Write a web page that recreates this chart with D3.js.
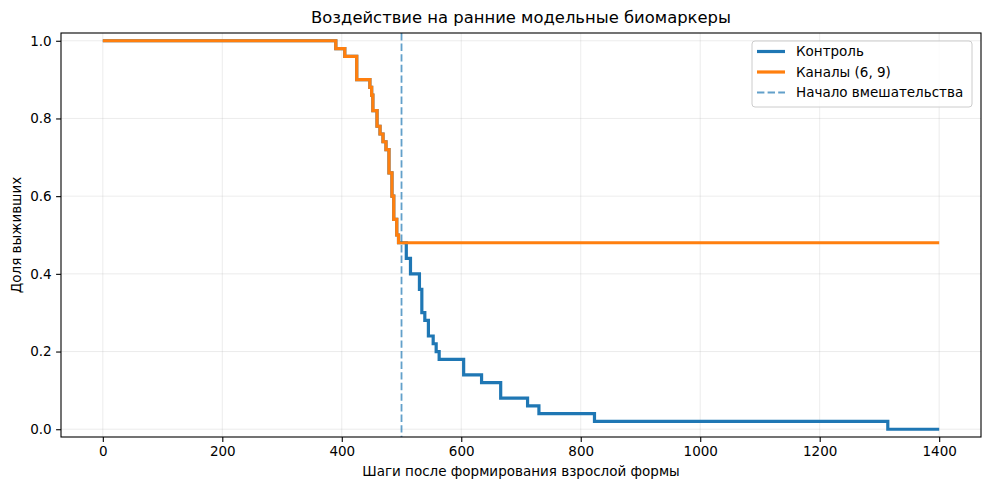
<!DOCTYPE html>
<html>
<head>
<meta charset="utf-8">
<script src="https://cdn.jsdelivr.net/npm/d3@7"></script>
<style>
  body { margin: 0; background: #fff; }
  svg { font-family: "DejaVu Sans", sans-serif; }
</style>
</head>
<body>
<svg id="chart"></svg>
<script>
// step times (shared by both groups until intervention)
const earlyTimes = [0, 390, 405, 425, 447, 450, 452, 459, 464, 469, 474, 479, 484, 487, 492, 495];
const earlySurv  = [1.0, 0.98, 0.96, 0.90, 0.88, 0.86, 0.82, 0.78, 0.76, 0.74, 0.72, 0.66, 0.60, 0.54, 0.50, 0.48];

// control after intervention start
const controlLateTimes = [508, 515, 530, 534, 539, 545, 553, 558, 563, 604, 634, 666, 711, 730, 823, 1314, 1400];
const controlLateSurv  = [0.44, 0.40, 0.36, 0.30, 0.28, 0.24, 0.22, 0.20, 0.18, 0.14, 0.12, 0.08, 0.06, 0.04, 0.02, 0.00, 0.00];

// channels (6, 9) stays flat
const channelsLateTimes = [1400];
const channelsLateSurv  = [0.48];

const interventionStart = 500;
const xTicks = [0, 200, 400, 600, 800, 1000, 1200, 1400];
const yTicks = [0.0, 0.2, 0.4, 0.6, 0.8, 1.0];

const seriesNames = ["Контроль", "Каналы (6, 9)", "Начало вмешательства"];
const colors = ["#1f77b4", "#ff7f0e"];

const W = 989, H = 490;
const margin = { top: 33, right: 8, bottom: 53, left: 61 };

const svg = d3.select("#chart").attr("width", W).attr("height", H);
const iw = W - margin.left - margin.right;
const ih = H - margin.top - margin.bottom;

const x = d3.scaleLinear().domain([-70, 1470]).range([0, iw]);
const y = d3.scaleLinear().domain([-0.02, 1.02]).range([ih, 0]);

const g = svg.append("g").attr("transform", `translate(${margin.left},${margin.top})`);

// grid
g.append("g").selectAll("line").data(xTicks).join("line")
  .attr("x1", d => x(d)).attr("x2", d => x(d)).attr("y1", 0).attr("y2", ih)
  .attr("stroke", "#b0b0b0").attr("stroke-opacity", 0.3).attr("stroke-width", 0.8);
g.append("g").selectAll("line").data(yTicks).join("line")
  .attr("y1", d => y(d)).attr("y2", d => y(d)).attr("x1", 0).attr("x2", iw)
  .attr("stroke", "#b0b0b0").attr("stroke-opacity", 0.3).attr("stroke-width", 0.8);

function zip(ts, vs) { return ts.map((t, i) => ({ t: t, s: vs[i] })); }
const control = zip(earlyTimes.concat(controlLateTimes), earlySurv.concat(controlLateSurv));
const channels = zip(earlyTimes.concat(channelsLateTimes), earlySurv.concat(channelsLateSurv));

const line = d3.line().x(d => x(d.t)).y(d => y(d.s)).curve(d3.curveStepAfter);

g.append("path").datum(control).attr("d", line)
  .attr("fill", "none").attr("stroke", colors[0]).attr("stroke-width", 3.2);
g.append("path").datum(channels).attr("d", line)
  .attr("fill", "none").attr("stroke", colors[1]).attr("stroke-width", 3.2);

// intervention marker
g.append("line")
  .attr("x1", x(interventionStart)).attr("x2", x(interventionStart))
  .attr("y1", 0).attr("y2", ih)
  .attr("stroke", colors[0]).attr("stroke-opacity", 0.7)
  .attr("stroke-width", 1.8).attr("stroke-dasharray", "7.4,3.2");

// axes
const xAxis = g.append("g").attr("transform", `translate(0,${ih})`)
  .call(d3.axisBottom(x).tickValues(xTicks).tickSize(4.9).tickPadding(4.5).tickFormat(d3.format("d")));
const yAxis = g.append("g")
  .call(d3.axisLeft(y).tickValues(yTicks).tickSize(4.9).tickPadding(4.5).tickFormat(d3.format(".1f")));
[xAxis, yAxis].forEach(a => {
  a.select(".domain").remove();
  a.selectAll("line").attr("stroke", "#000").attr("stroke-width", 1.1);
  a.selectAll("text").attr("fill", "#000").style("font-size", "13.5px").style("font-family", "DejaVu Sans");
});

// frame
g.append("rect").attr("width", iw).attr("height", ih)
  .attr("fill", "none").attr("stroke", "#000").attr("stroke-width", 1.1);

// labels
svg.append("text").attr("x", margin.left + iw / 2).attr("y", 23)
  .attr("text-anchor", "middle").style("font-size", "16.4px").text("Воздействие на ранние модельные биомаркеры");
svg.append("text").attr("x", margin.left + iw / 2).attr("y", 476)
  .attr("text-anchor", "middle").style("font-size", "13.5px").text("Шаги после формирования взрослой формы");
svg.append("text").attr("transform", `translate(21,${margin.top + ih / 2}) rotate(-90)`)
  .attr("text-anchor", "middle").style("font-size", "13.5px").text("Доля выживших");

// legend
const lg = svg.append("g").attr("transform", "translate(752,41)");
lg.append("rect").attr("width", 220).attr("height", 66).attr("rx", 3)
  .attr("fill", "#fff").attr("fill-opacity", 0.8).attr("stroke", "#cccccc");
seriesNames.forEach((name, i) => {
  const yy = 10.5 + i * 20.5;
  const ln = lg.append("line").attr("x1", 5).attr("x2", 33).attr("y1", yy).attr("y2", yy)
    .attr("stroke", i < 2 ? colors[i] : colors[0]);
  if (i < 2) ln.attr("stroke-width", 3.2);
  else ln.attr("stroke-width", 1.8).attr("stroke-opacity", 0.7).attr("stroke-dasharray", "7.4,3.2");
  lg.append("text").attr("x", 44).attr("y", yy + 4.8).style("font-size", "13.5px").text(name);
});
</script>
</body>
</html>
